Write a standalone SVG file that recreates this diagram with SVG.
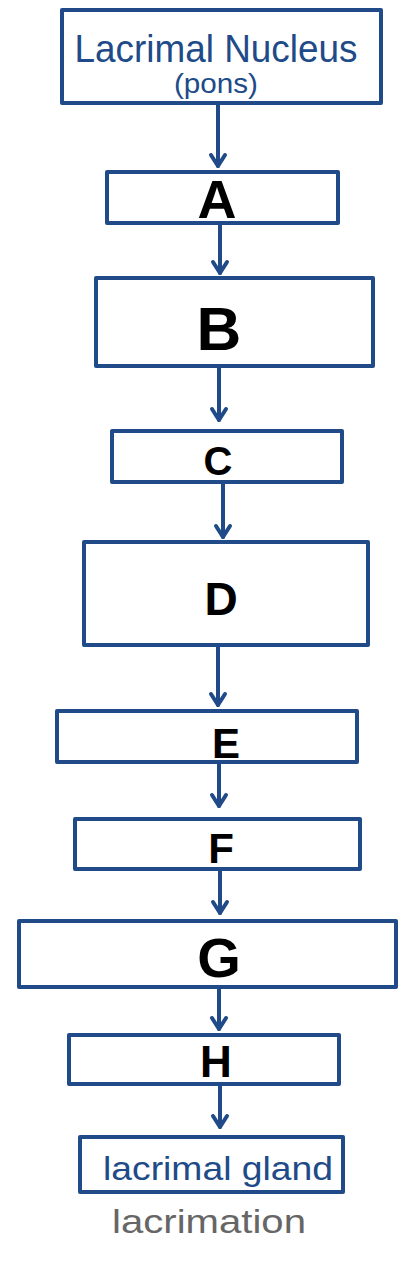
<svg xmlns="http://www.w3.org/2000/svg" width="417" height="1267" viewBox="0 0 417 1267">
<style>
.box{fill:#fff;stroke:#204a88;stroke-width:4;stroke-linejoin:round}
.conn{stroke:#204a88;stroke-width:4;fill:none;stroke-linecap:round}
.lt{font-family:"Liberation Sans",Arial,sans-serif;font-weight:bold;fill:#000;text-anchor:middle}
.hw{font-family:"Liberation Sans",Arial,sans-serif;fill:#204a88;text-anchor:middle}
</style>
<defs>
<marker id="ah" viewBox="0 0 20 20" refX="16" refY="10" markerWidth="20" markerHeight="20" markerUnits="userSpaceOnUse" orient="auto">
<polyline points="5,3 16,10 5,17" fill="none" stroke="#204a88" stroke-width="4" stroke-linecap="round" stroke-linejoin="round"/>
</marker>
</defs>
<rect width="417" height="1267" fill="#fff"/>
<g id="connectors">
<line class="conn" x1="218" y1="103" x2="218" y2="166" marker-end="url(#ah)"/>
<line class="conn" x1="220" y1="223" x2="220" y2="273" marker-end="url(#ah)"/>
<line class="conn" x1="219" y1="366" x2="219" y2="420" marker-end="url(#ah)"/>
<line class="conn" x1="223" y1="482" x2="223" y2="537" marker-end="url(#ah)"/>
<line class="conn" x1="218" y1="645" x2="218" y2="705" marker-end="url(#ah)"/>
<line class="conn" x1="219" y1="762" x2="219" y2="806" marker-end="url(#ah)"/>
<line class="conn" x1="220" y1="869" x2="220" y2="913" marker-end="url(#ah)"/>
<line class="conn" x1="219" y1="987" x2="219" y2="1029" marker-end="url(#ah)"/>
<line class="conn" x1="220" y1="1084" x2="220" y2="1127" marker-end="url(#ah)"/>
</g>
<g id="node-nucleus">
<rect class="box" x="62" y="10" width="319" height="93"/>
<text class="hw" x="216" y="62" font-size="38" textLength="283" lengthAdjust="spacingAndGlyphs">Lacrimal Nucleus</text>
<text class="hw" x="216" y="93" font-size="28" textLength="84" lengthAdjust="spacingAndGlyphs">(pons)</text>
</g>
<g id="node-A"><rect class="box" x="107" y="172" width="231" height="51"/><text class="lt" x="217" y="218" font-size="54">A</text></g>
<g id="node-B"><rect class="box" x="96" y="278" width="277" height="88"/><text class="lt" x="219" y="350" font-size="62">B</text></g>
<g id="node-C"><rect class="box" x="112" y="431" width="230" height="51"/><text class="lt" x="218" y="475" font-size="40">C</text></g>
<g id="node-D"><rect class="box" x="84" y="542" width="284" height="103"/><text class="lt" x="221" y="615" font-size="46">D</text></g>
<g id="node-E"><rect class="box" x="57" y="711" width="300" height="51"/><text class="lt" x="226" y="758" font-size="42">E</text></g>
<g id="node-F"><rect class="box" x="75" y="819" width="285" height="50"/><text class="lt" x="221" y="863" font-size="42">F</text></g>
<g id="node-G"><rect class="box" x="19" y="921" width="377" height="66"/><text class="lt" x="219" y="977" font-size="56">G</text></g>
<g id="node-H"><rect class="box" x="69" y="1035" width="270" height="49"/><text class="lt" x="216" y="1077" font-size="44">H</text></g>
<g id="node-gland">
<rect class="box" x="80" y="1137" width="263" height="55"/>
<text class="hw" x="218" y="1180" font-size="34" textLength="230" lengthAdjust="spacingAndGlyphs">lacrimal gland</text>
</g>
<text x="209" y="1233" font-family="Liberation Sans, Arial, sans-serif" font-size="34" fill="#666" text-anchor="middle" textLength="194" lengthAdjust="spacingAndGlyphs">lacrimation</text>
</svg>
